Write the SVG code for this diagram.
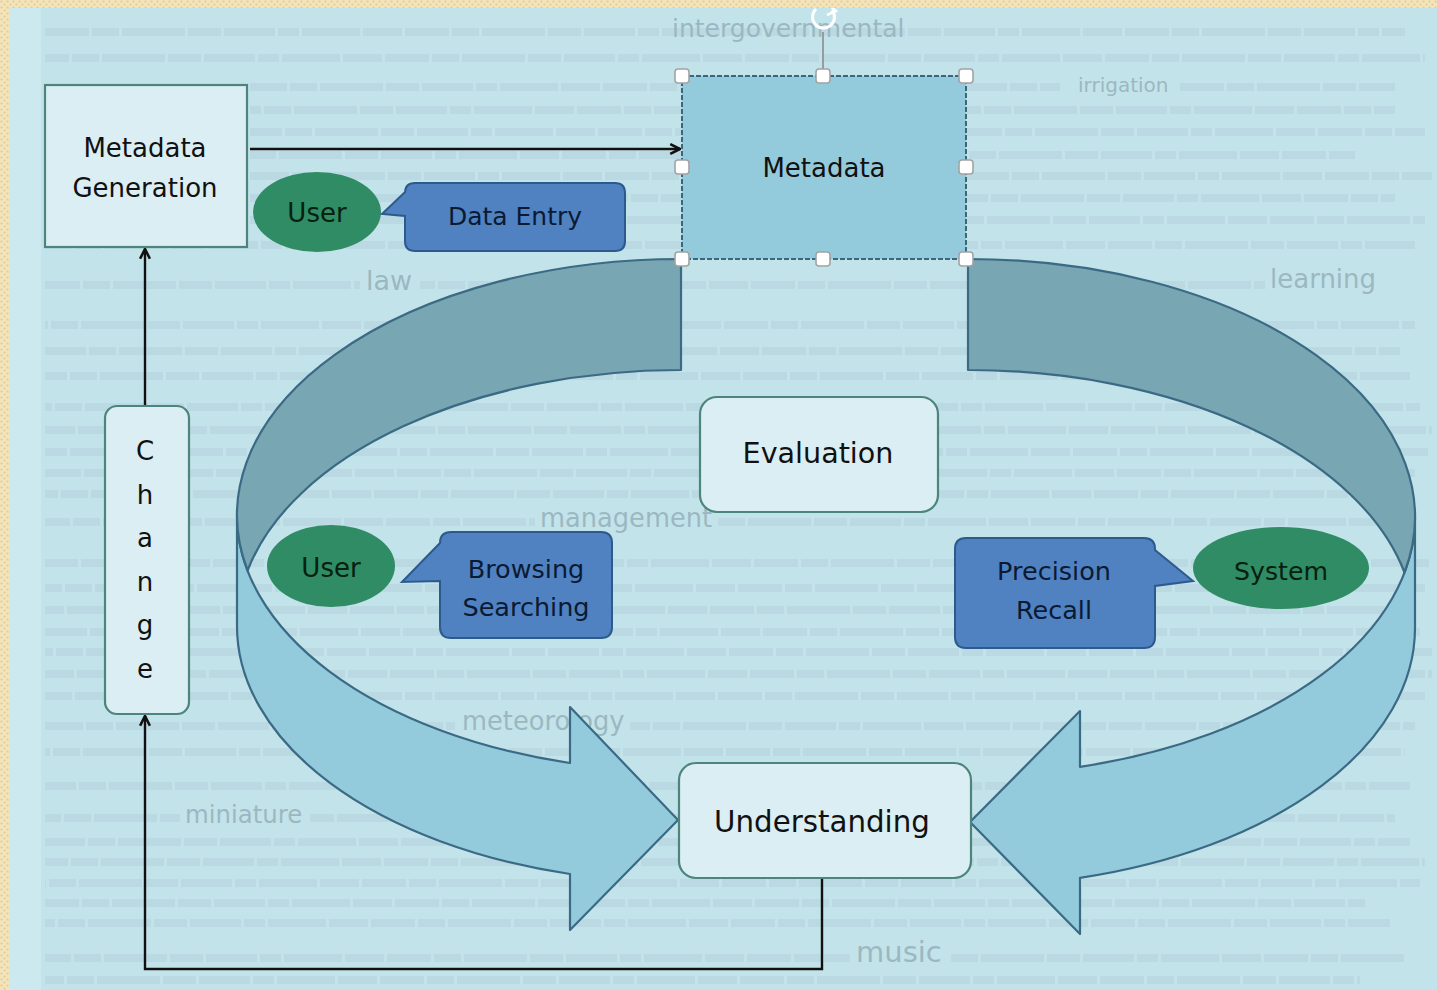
<svg xmlns="http://www.w3.org/2000/svg" width="1437" height="990" viewBox="0 0 1437 990">
<defs>
<pattern id="dots" width="6" height="6" patternUnits="userSpaceOnUse">
<rect width="6" height="6" fill="#f4e4ba"/>
<circle cx="1.5" cy="1.5" r="1.1" fill="#e3cc92"/>
<circle cx="4.5" cy="4.5" r="1.1" fill="#e3cc92"/>
</pattern>
<marker id="arr" viewBox="0 0 12 12" refX="11" refY="6" markerWidth="13" markerHeight="13" markerUnits="userSpaceOnUse" orient="auto">
<path d="M2,1.5 L11,6 L2,10.5" fill="none" stroke="#111" stroke-width="2.4"/>
</marker>
<style>
.t{font-family:"DejaVu Sans","Liberation Sans",sans-serif;text-anchor:middle}
.wc{stroke:#98b4bd;stroke-opacity:0.2;stroke-width:8;fill:none;stroke-dasharray:44 3 27 3 63 3 33 3 51 3 21 3 58 3 39 3}
.big{font-family:"DejaVu Sans","Liberation Sans",sans-serif;fill:#9bb8c1}
.box{fill:#daeef3;stroke:#4d857c;stroke-width:2.2}
.ell{fill:#2f8c64}
.call{fill:#5081c1;stroke:#2d5a8c;stroke-width:2}
.band-f{fill:#93cbdc;stroke:#3b6a84;stroke-width:2.2;stroke-linejoin:round}
.band-b{fill:#78a6b2;stroke:#3b6a84;stroke-width:2.2;stroke-linejoin:round}
.conn{fill:none;stroke:#111;stroke-width:2.4}
.h{fill:#ffffff;stroke:#a3a3a3;stroke-width:1.6}
.dk{fill:#111}
.cl{fill:#0b1a33}
.el{fill:#07200f}
</style>
</defs>

<!-- background -->
<rect x="0" y="0" width="1437" height="990" fill="#c3e3eb"/>
<rect x="9" y="8" width="32" height="982" fill="#cce9f0"/>

<!-- faint word-cloud texture -->
<g id="wordcloud">
<line class="wc" x1="45" y1="32" x2="1405" y2="32"/>
<line class="wc" x1="45" y1="58" x2="1425" y2="58" stroke-dashoffset="20"/>
<line class="wc" x1="250" y1="87" x2="1060" y2="87" stroke-dashoffset="7"/>
<line class="wc" x1="1180" y1="87" x2="1395" y2="87"/>
<line class="wc" x1="250" y1="110" x2="1395" y2="110" stroke-dashoffset="33"/>
<line class="wc" x1="250" y1="132" x2="1425" y2="132" stroke-dashoffset="12"/>
<line class="wc" x1="250" y1="155" x2="1355" y2="155" stroke-dashoffset="48"/>
<line class="wc" x1="250" y1="176" x2="1432" y2="176" stroke-dashoffset="5"/>
<line class="wc" x1="250" y1="198" x2="1395" y2="198" stroke-dashoffset="26"/>
<line class="wc" x1="250" y1="220" x2="1425" y2="220" stroke-dashoffset="60"/>
<line class="wc" x1="45" y1="245" x2="1415" y2="245" stroke-dashoffset="17"/>
<line class="wc" x1="45" y1="285" x2="360" y2="285" stroke-dashoffset="9"/>
<line class="wc" x1="420" y1="285" x2="1265" y2="285" stroke-dashoffset="29"/>
<line class="wc" x1="45" y1="325" x2="1415" y2="325" stroke-dashoffset="41"/>
<line class="wc" x1="45" y1="351" x2="1400" y2="351" stroke-dashoffset="3"/>
<line class="wc" x1="45" y1="376" x2="1410" y2="376" stroke-dashoffset="22"/>
<line class="wc" x1="45" y1="407" x2="1420" y2="407" stroke-dashoffset="37"/>
<line class="wc" x1="45" y1="430" x2="1432" y2="430" stroke-dashoffset="14"/>
<line class="wc" x1="45" y1="452" x2="1428" y2="452" stroke-dashoffset="52"/>
<line class="wc" x1="45" y1="473" x2="1415" y2="473" stroke-dashoffset="8"/>
<line class="wc" x1="45" y1="494" x2="1410" y2="494" stroke-dashoffset="31"/>
<line class="wc" x1="45" y1="522" x2="535" y2="522" stroke-dashoffset="19"/>
<line class="wc" x1="715" y1="522" x2="1400" y2="522" stroke-dashoffset="44"/>
<line class="wc" x1="45" y1="563" x2="1432" y2="563" stroke-dashoffset="11"/>
<line class="wc" x1="45" y1="588" x2="1425" y2="588" stroke-dashoffset="27"/>
<line class="wc" x1="45" y1="610" x2="1410" y2="610" stroke-dashoffset="55"/>
<line class="wc" x1="45" y1="632" x2="1420" y2="632" stroke-dashoffset="2"/>
<line class="wc" x1="45" y1="652" x2="1432" y2="652" stroke-dashoffset="36"/>
<line class="wc" x1="45" y1="674" x2="1432" y2="674" stroke-dashoffset="15"/>
<line class="wc" x1="45" y1="696" x2="1425" y2="696" stroke-dashoffset="47"/>
<line class="wc" x1="45" y1="726" x2="455" y2="726" stroke-dashoffset="6"/>
<line class="wc" x1="630" y1="726" x2="1415" y2="726" stroke-dashoffset="24"/>
<line class="wc" x1="45" y1="752" x2="1405" y2="752" stroke-dashoffset="39"/>
<line class="wc" x1="45" y1="786" x2="1410" y2="786" stroke-dashoffset="13"/>
<line class="wc" x1="45" y1="818" x2="180" y2="818" stroke-dashoffset="28"/>
<line class="wc" x1="310" y1="818" x2="1395" y2="818" stroke-dashoffset="50"/>
<line class="wc" x1="45" y1="842" x2="1410" y2="842" stroke-dashoffset="4"/>
<line class="wc" x1="45" y1="862" x2="1425" y2="862" stroke-dashoffset="21"/>
<line class="wc" x1="45" y1="883" x2="1420" y2="883" stroke-dashoffset="43"/>
<line class="wc" x1="45" y1="903" x2="1365" y2="903" stroke-dashoffset="10"/>
<line class="wc" x1="45" y1="923" x2="1390" y2="923" stroke-dashoffset="34"/>
<line class="wc" x1="45" y1="958" x2="850" y2="958" stroke-dashoffset="18"/>
<line class="wc" x1="950" y1="958" x2="1405" y2="958" stroke-dashoffset="46"/>
<line class="wc" x1="45" y1="980" x2="1360" y2="980" stroke-dashoffset="25"/>
<text class="big" x="672" y="37" font-size="25">intergovernmental</text>
<text class="big" x="1078" y="92" font-size="20" fill="#86a6b0">irrigation</text>
<text class="big" x="366" y="290" font-size="27">law</text>
<text class="big" x="1270" y="288" font-size="26">learning</text>
<text class="big" x="540" y="527" font-size="25.7">management</text>
<text class="big" x="462" y="730" font-size="25.7">meteorology</text>
<text class="big" x="185" y="823" font-size="24.4">miniature</text>
<text class="big" x="856" y="962" font-size="29">music</text>
</g>

<!-- curved arrows -->
<g id="curved-arrow-left">
<path class="band-f" d="M237,515 A444,256 0 0 0 570,763 L570,707 L678,820 L570,930 L570,874 A444,256 0 0 1 237,626 Z"/>
<path class="band-b" d="M681,370 A444,256 0 0 0 247.6,570.5 A444,256 0 0 1 681,259 Z"/>
</g>
<g id="curved-arrow-right">
<path class="band-f" d="M1415,517 A447,258 0 0 1 1080,766.8 L1080,711 L970,822 L1080,934 L1080,877.8 A447,258 0 0 0 1415,628 Z"/>
<path class="band-b" d="M968,370 A447,258 0 0 1 1404.5,572.5 A447,258 0 0 0 968,259 Z"/>
</g>

<!-- connectors -->
<g id="connectors">
<path class="conn" d="M250,149 L680,149" marker-end="url(#arr)"/>
<path class="conn" d="M145,406 L145,249" marker-end="url(#arr)"/>
<path class="conn" d="M822,879 L822,969 L145,969 L145,716" marker-end="url(#arr)"/>
</g>

<!-- nodes -->
<g id="metadata-generation">
<rect class="box" x="45" y="85" width="202" height="162"/>
<text class="t dk" x="145" y="157" font-size="26">Metadata</text>
<text class="t dk" x="145" y="197" font-size="26">Generation</text>
</g>

<g id="user-1">
<ellipse class="ell" cx="317" cy="212" rx="64" ry="40"/>
<text class="t el" x="317" y="222" font-size="26">User</text>
</g>

<g id="data-entry">
<path class="call" d="M415,183 L615,183 Q625,183 625,193 L625,241 Q625,251 615,251 L415,251 Q405,251 405,241 L405,216 L382,214 L405,192 L405,193 Q405,183 415,183 Z"/>
<text class="t cl" x="515" y="225" font-size="25">Data Entry</text>
</g>

<g id="metadata">
<rect x="682" y="76" width="284" height="183" fill="#93cbdc" stroke="#3a6878" stroke-width="2" stroke-dasharray="5 2"/>
<text class="t dk" x="824" y="177" font-size="26">Metadata</text>
<line x1="823" y1="32" x2="823" y2="70" stroke="#8c8c8c" stroke-width="1.6"/>
<path d="M832,10 A11,11 0 1 1 816,9" fill="none" stroke="#ffffff" stroke-width="3"/>
<path d="M828,4 L836,11 L827,15" fill="none" stroke="#ffffff" stroke-width="2.5"/>
<rect class="h" x="675" y="69" width="14" height="14" rx="3"/>
<rect class="h" x="816" y="69" width="14" height="14" rx="3"/>
<rect class="h" x="959" y="69" width="14" height="14" rx="3"/>
<rect class="h" x="675" y="160" width="14" height="14" rx="3"/>
<rect class="h" x="959" y="160" width="14" height="14" rx="3"/>
<rect class="h" x="675" y="252" width="14" height="14" rx="3"/>
<rect class="h" x="816" y="252" width="14" height="14" rx="3"/>
<rect class="h" x="959" y="252" width="14" height="14" rx="3"/>
</g>

<g id="evaluation">
<rect class="box" x="700" y="397" width="238" height="115" rx="17"/>
<text class="t dk" x="818" y="463" font-size="28.6">Evaluation</text>
</g>

<g id="change">
<rect class="box" x="105" y="406" width="84" height="308" rx="12"/>
<text class="t dk" x="145" y="460" font-size="26">C<tspan x="145" dy="43.6">h</tspan><tspan x="145" dy="43.6">a</tspan><tspan x="145" dy="43.6">n</tspan><tspan x="145" dy="43.6">g</tspan><tspan x="145" dy="43.6">e</tspan></text>
</g>

<g id="user-2">
<ellipse class="ell" cx="331" cy="566" rx="64" ry="41"/>
<text class="t el" x="331" y="577" font-size="26">User</text>
</g>

<g id="browsing-searching">
<path class="call" d="M451,532 L601,532 Q612,532 612,543 L612,627 Q612,638 601,638 L451,638 Q440,638 440,627 L440,581 L402,582 L440,543 Q440,532 451,532 Z"/>
<text class="t cl" x="526" y="578" font-size="25.5">Browsing</text>
<text class="t cl" x="526" y="616" font-size="25.5">Searching</text>
</g>

<g id="precision-recall">
<path class="call" d="M966,538 L1144,538 Q1155,538 1155,549 L1155,550 L1193,581 L1155,586 L1155,637 Q1155,648 1144,648 L966,648 Q955,648 955,637 L955,549 Q955,538 966,538 Z"/>
<text class="t cl" x="1054" y="580" font-size="25.5">Precision</text>
<text class="t cl" x="1054" y="619" font-size="25.5">Recall</text>
</g>

<g id="system">
<ellipse class="ell" cx="1281" cy="568" rx="88" ry="41"/>
<text class="t el" x="1281" y="580" font-size="25.2">System</text>
</g>

<g id="understanding">
<rect class="box" x="679" y="763" width="292" height="115" rx="17"/>
<text class="t dk" x="822" y="832" font-size="29.3">Understanding</text>
</g>

<!-- frame -->
<rect x="0" y="0" width="1437" height="8" fill="url(#dots)"/>
<rect x="0" y="0" width="9" height="990" fill="url(#dots)"/>
</svg>
